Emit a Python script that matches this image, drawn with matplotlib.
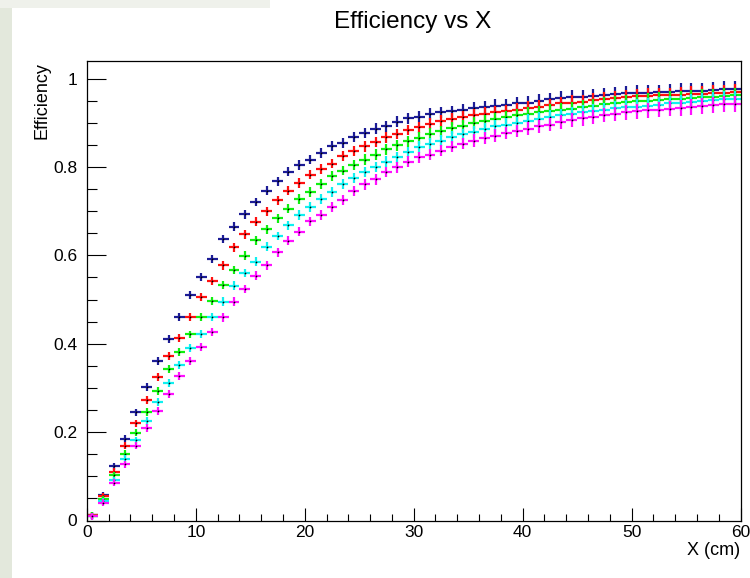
import numpy as np
import matplotlib
matplotlib.use("Agg")
import matplotlib.pyplot as plt
from matplotlib.patches import Rectangle
from matplotlib.ticker import MultipleLocator, FormatStrFormatter

plt.rcParams["font.family"] = ["Liberation Sans", "DejaVu Sans"]

# bin edges in cm (60 bins of 1 cm)
bin_lo = np.arange(0, 60)
bin_centers = bin_lo + 0.5

eff_navy = [0.012, 0.057, 0.123, 0.185, 0.245, 0.303, 0.360, 0.411, 0.460, 0.510,
            0.551, 0.592, 0.637, 0.665, 0.693, 0.721, 0.746, 0.768, 0.789, 0.805,
            0.817, 0.832, 0.847, 0.855, 0.868, 0.877, 0.887, 0.892, 0.903, 0.910,
            0.914, 0.920, 0.924, 0.926, 0.930, 0.933, 0.936, 0.939, 0.941, 0.944,
            0.946, 0.950, 0.953, 0.957, 0.959, 0.959, 0.961, 0.963, 0.966, 0.967,
            0.968, 0.968, 0.969, 0.970, 0.972, 0.972, 0.973, 0.974, 0.976, 0.977]

eff_red = [0.012, 0.055, 0.110, 0.169, 0.220, 0.273, 0.324, 0.373, 0.413, 0.460,
           0.505, 0.542, 0.578, 0.618, 0.648, 0.676, 0.700, 0.725, 0.746, 0.764,
           0.783, 0.795, 0.808, 0.825, 0.836, 0.847, 0.857, 0.867, 0.875, 0.884,
           0.890, 0.898, 0.904, 0.909, 0.913, 0.917, 0.921, 0.924, 0.927, 0.930,
           0.934, 0.937, 0.940, 0.944, 0.946, 0.948, 0.951, 0.953, 0.956, 0.958,
           0.960, 0.961, 0.962, 0.963, 0.964, 0.965, 0.966, 0.967, 0.968, 0.969]

eff_green = [0.011, 0.048, 0.102, 0.151, 0.199, 0.245, 0.293, 0.342, 0.382, 0.421,
             0.460, 0.497, 0.533, 0.567, 0.599, 0.634, 0.659, 0.684, 0.706, 0.727,
             0.744, 0.762, 0.780, 0.792, 0.804, 0.817, 0.828, 0.840, 0.849, 0.858,
             0.866, 0.875, 0.881, 0.888, 0.893, 0.899, 0.904, 0.909, 0.913, 0.917,
             0.921, 0.924, 0.927, 0.930, 0.932, 0.936, 0.939, 0.942, 0.945, 0.947,
             0.949, 0.950, 0.952, 0.954, 0.955, 0.957, 0.958, 0.959, 0.961, 0.962]

eff_cyan = [0.010, 0.044, 0.091, 0.140, 0.182, 0.225, 0.269, 0.312, 0.353, 0.390,
            0.423, 0.460, 0.495, 0.531, 0.560, 0.586, 0.620, 0.644, 0.668, 0.691,
            0.710, 0.727, 0.744, 0.761, 0.776, 0.789, 0.800, 0.812, 0.822, 0.834,
            0.845, 0.853, 0.860, 0.868, 0.874, 0.880, 0.886, 0.892, 0.896, 0.900,
            0.905, 0.909, 0.913, 0.917, 0.920, 0.924, 0.927, 0.930, 0.933, 0.935,
            0.937, 0.939, 0.941, 0.944, 0.945, 0.947, 0.949, 0.951, 0.953, 0.954]

eff_magenta = [0.010, 0.040, 0.085, 0.127, 0.169, 0.210, 0.248, 0.287, 0.328, 0.360,
               0.393, 0.427, 0.460, 0.495, 0.524, 0.554, 0.578, 0.607, 0.633, 0.654,
               0.677, 0.691, 0.710, 0.725, 0.746, 0.761, 0.772, 0.789, 0.799, 0.812,
               0.822, 0.828, 0.837, 0.846, 0.853, 0.860, 0.866, 0.871, 0.877, 0.882,
               0.887, 0.892, 0.896, 0.902, 0.906, 0.910, 0.913, 0.917, 0.920, 0.924,
               0.926, 0.928, 0.930, 0.932, 0.934, 0.936, 0.938, 0.940, 0.942, 0.943]

# vertical error (half length), shared by all series
eff_err = [0.008, 0.008, 0.008, 0.008, 0.008, 0.009, 0.009, 0.009, 0.009, 0.009,
           0.009, 0.009, 0.010, 0.010, 0.010, 0.010, 0.010, 0.010, 0.010, 0.011,
           0.011, 0.011, 0.011, 0.011, 0.011, 0.012, 0.012, 0.012, 0.012, 0.012,
           0.013, 0.013, 0.013, 0.013, 0.013, 0.014, 0.014, 0.014, 0.014, 0.014,
           0.015, 0.015, 0.015, 0.015, 0.016, 0.016, 0.016, 0.016, 0.016, 0.017,
           0.017, 0.017, 0.017, 0.017, 0.018, 0.018, 0.018, 0.018, 0.018, 0.018]

series = [
    (eff_navy, "#1c1c96"),
    (eff_red, "#ff1010"),
    (eff_green, "#10f010"),
    (eff_cyan, "#10f0f0"),
    (eff_magenta, "#ff10ff"),
]

fig = plt.figure(figsize=(7.5, 5.78), dpi=100, facecolor="white")

# slide background peeking around the canvas
fig.patches.append(Rectangle((0, 0), 12 / 750, 1, transform=fig.transFigure,
                             facecolor="#e3e8dc", edgecolor="none", zorder=-10))
fig.patches.append(Rectangle((0, 1 - 8 / 578), 270 / 750, 8 / 578, transform=fig.transFigure,
                             facecolor="#eff1eb", edgecolor="none", zorder=-10))

ax = fig.add_axes([86.9 / 750, 1 - 520.5 / 578, (740.5 - 86.9) / 750, (520.5 - 61) / 578])

for eff, col in series:
    ax.errorbar(bin_centers, eff, xerr=0.5, yerr=eff_err, fmt="none",
                ecolor=col, elinewidth=1.6, capsize=0)
    ax.plot(bin_centers, eff, linestyle="none", marker="o", ms=0.9,
            mfc="black", mec="black", mew=0.3)

ax.set_xlim(0, 60)
ax.set_ylim(0, 1.04)

ax.xaxis.set_major_locator(MultipleLocator(10))
ax.xaxis.set_minor_locator(MultipleLocator(2))
ax.yaxis.set_major_locator(MultipleLocator(0.2))
ax.yaxis.set_minor_locator(MultipleLocator(0.05))
ax.yaxis.set_major_formatter(FormatStrFormatter("%g"))

ax.tick_params(axis="x", which="major", direction="in", length=9.5, width=0.8,
               labelsize=12.5, pad=3, top=False)
ax.tick_params(axis="x", which="minor", direction="in", length=5, width=0.8, top=False)
ax.tick_params(axis="y", which="major", direction="in", length=13.7, width=0.8,
               labelsize=12.5, pad=7, right=False)
ax.tick_params(axis="y", which="minor", direction="in", length=7, width=0.8, right=False)

for sp in ax.spines.values():
    sp.set_linewidth(0.9)

fig.text(413 / 750, 1 - 22 / 578, "Efficiency vs X", ha="center", va="center", fontsize=17.5)
fig.text(50 / 750, 1 - 62 / 578, "Efficiency", rotation=90, ha="right", va="top", fontsize=13)
fig.text(740 / 750, 1 - 542 / 578, "X (cm)", ha="right", va="top", fontsize=13)

fig.savefig("out.png", dpi=100, facecolor=fig.get_facecolor())
